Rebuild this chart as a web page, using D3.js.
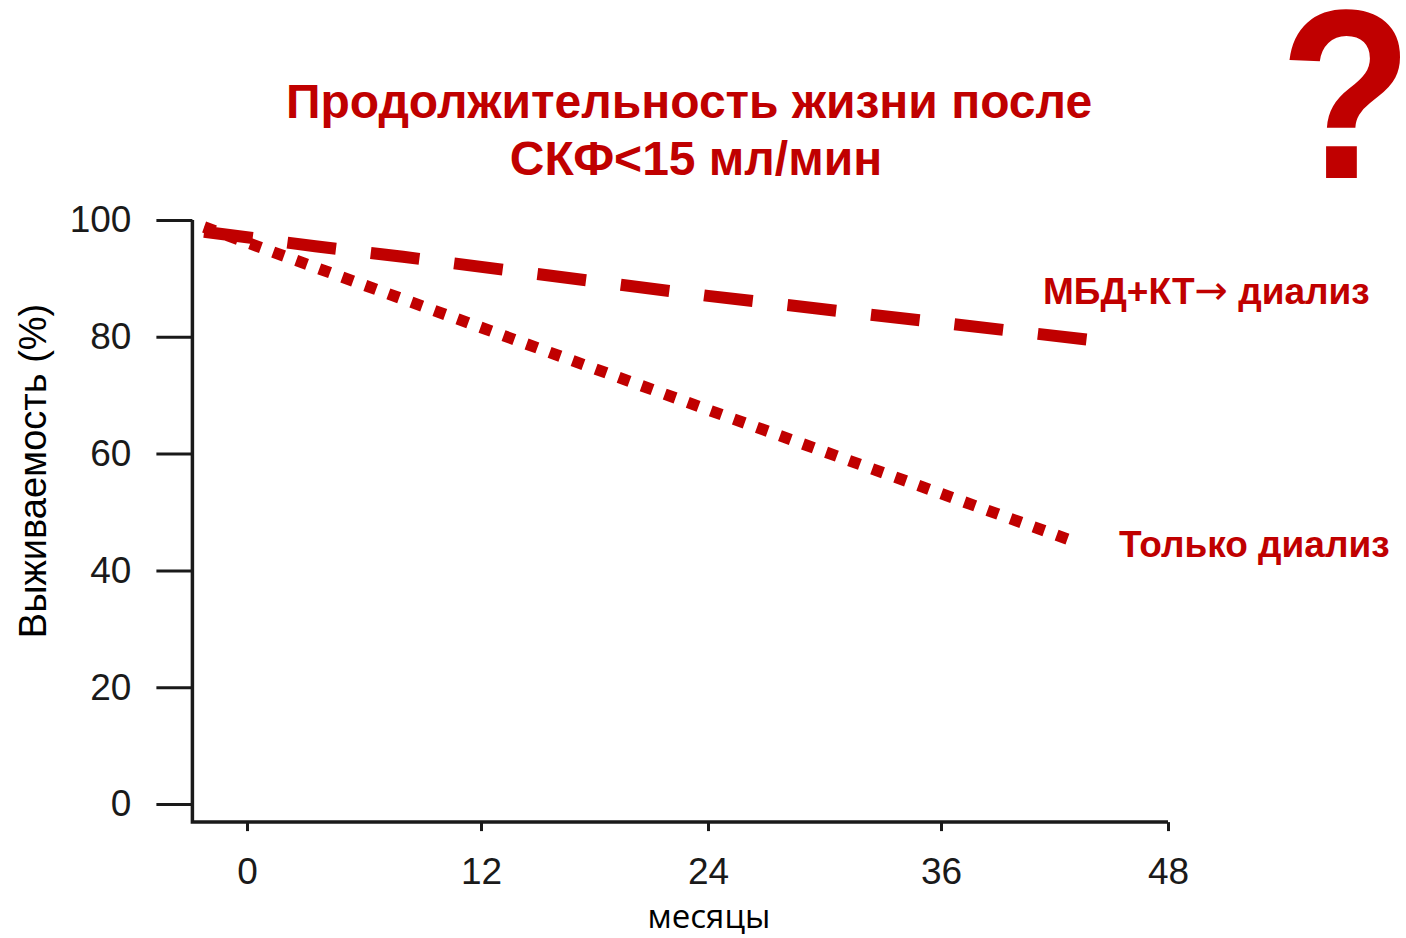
<!DOCTYPE html>
<html>
<head>
<meta charset="utf-8">
<script src="https://cdn.jsdelivr.net/npm/d3@7"></script>
<style>
  body { margin: 0; background: #fff; }
  svg { display: block; }
</style>
</head>
<body>
<svg id="chart" width="1406" height="938"></svg>
<script>
// axis ticks
const monthTicks = [0, 12, 24, 36, 48];
const survivalTicks = [0, 20, 40, 60, 80, 100];

// survival curves (months, %)
const mbdMonths = [-2.2, 3.5, 8, 24, 43.8];
const mbdSurvival = [98, 95.5, 93.7, 87, 79.5];
const dialysisMonths = [-2.2, 24, 43];
const dialysisSurvival = [98.8, 67.5, 45];

const titleLines = ['Продолжительность жизни после', 'СКФ<15 мл/мин'];

const RED = '#c00000';
const INK = '#1a1a1a';
const SANS = '"Liberation Sans", Arial, sans-serif';

const svg = d3.select('#chart');

// the scanned axis is not perfectly even, so map each tick to where it sits
const x = d3.scaleLinear().domain(monthTicks).range([247, 481, 708, 941, 1168]);
const y = d3.scaleLinear().domain([0, 100]).range([804, 220]);
// axis frame starts a bit before month 0 and below 0 %
const xStart = -2.8;
const yFloor = -3.1;

// title
svg.append('g')
  .selectAll('text')
  .data(titleLines)
  .join('text')
  .attr('x', (d, i) => i === 0 ? 689 : 696)
  .attr('y', (d, i) => 118 + i * 57)
  .attr('text-anchor', 'middle')
  .attr('font-family', SANS)
  .attr('font-weight', 'bold')
  .attr('font-size', 48)
  .attr('fill', RED)
  .text(d => d);

// big question mark, slightly narrowed
svg.append('text')
  .attr('transform', 'translate(1346,178) scale(0.9,1)')
  .attr('text-anchor', 'middle')
  .attr('font-family', SANS)
  .attr('font-weight', 'bold')
  .attr('font-size', 242)
  .attr('fill', RED)
  .text('?');

// y axis
const yAxis = svg.append('g')
  .attr('transform', `translate(${x(xStart)},0)`)
  .call(d3.axisLeft(y).tickValues(survivalTicks).tickSize(36).tickPadding(25));
yAxis.select('.domain').remove();
yAxis.selectAll('.tick line').attr('stroke', INK).attr('stroke-width', 3);
yAxis.selectAll('.tick text')
  .attr('font-family', SANS)
  .attr('font-size', 37)
  .attr('fill', INK);

// x axis
const xAxis = svg.append('g')
  .attr('transform', `translate(0,${y(yFloor)})`)
  .call(d3.axisBottom(x).tickValues(monthTicks).tickSize(9).tickPadding(27));
xAxis.select('.domain').remove();
xAxis.selectAll('.tick line').attr('stroke', INK).attr('stroke-width', 3);
xAxis.selectAll('.tick text')
  .attr('font-family', SANS)
  .attr('font-size', 37)
  .attr('fill', INK);

// axis frame lines
svg.append('path')
  .attr('d', d3.line()([[x(xStart), y(100)], [x(xStart), y(yFloor)], [x(48), y(yFloor)]]))
  .attr('fill', 'none')
  .attr('stroke', INK)
  .attr('stroke-width', 3.5);

// axis titles
svg.append('text')
  .attr('transform', `translate(46,${y(50) - 41}) rotate(-90)`)
  .attr('text-anchor', 'middle')
  .attr('font-family', SANS)
  .attr('font-size', 38)
  .attr('fill', '#000')
  .text('Выживаемость (%)');

svg.append('text')
  .attr('x', 709)
  .attr('y', 928)
  .attr('text-anchor', 'middle')
  .attr('font-family', '"Open Sans", sans-serif')
  .attr('font-size', 33)
  .attr('fill', '#000')
  .text('месяцы');

// curves
const line = d3.line().x(d => x(d[0])).y(d => y(d[1]));

svg.append('path')
  .datum(d3.zip(mbdMonths, mbdSurvival))
  .attr('d', line)
  .attr('fill', 'none')
  .attr('stroke', RED)
  .attr('stroke-width', 12)
  .attr('stroke-dasharray', '49,35');

svg.append('path')
  .datum(d3.zip(dialysisMonths, dialysisSurvival))
  .attr('d', line)
  .attr('fill', 'none')
  .attr('stroke', RED)
  .attr('stroke-width', 11.5)
  .attr('stroke-dasharray', '11.5,13');

// series labels
const lab1 = svg.append('text')
  .attr('x', 1043)
  .attr('y', 304)
  .attr('font-family', SANS)
  .attr('font-weight', 'bold')
  .attr('font-size', 37)
  .attr('fill', RED);
lab1.append('tspan').text('МБД+КТ');
lab1.append('tspan')
  .attr('font-family', '"DejaVu Sans", sans-serif')
  .attr('font-weight', 'normal')
  .attr('font-size', 40)
  .text('\u2192');
lab1.append('tspan').text(' диализ');

svg.append('text')
  .attr('x', 1119)
  .attr('y', 557)
  .attr('font-family', SANS)
  .attr('font-weight', 'bold')
  .attr('font-size', 37)
  .attr('fill', RED)
  .text('Только диализ');
</script>
</body>
</html>
